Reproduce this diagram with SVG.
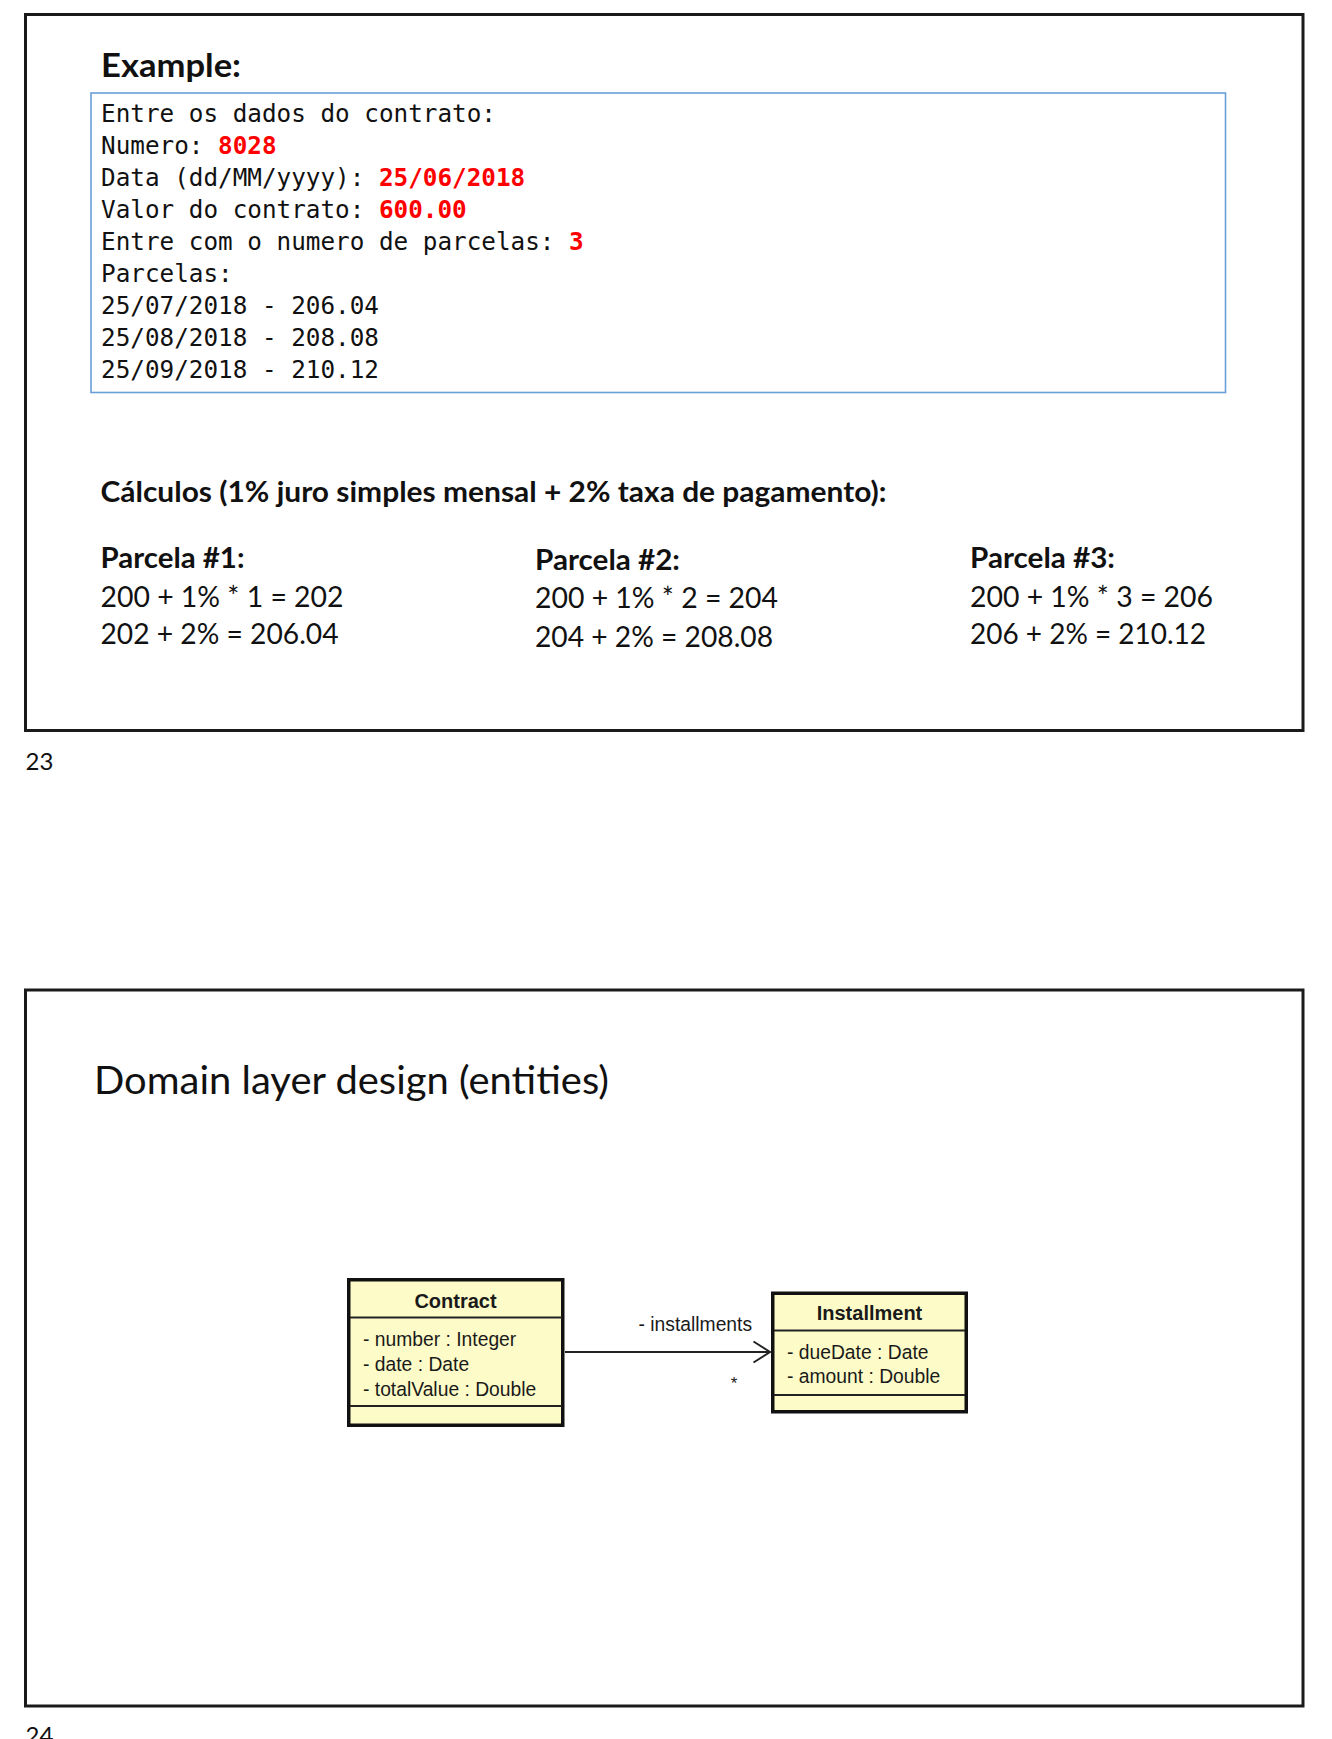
<svg xmlns="http://www.w3.org/2000/svg" width="1332" height="1739" viewBox="0 0 1332 1739">
  <style>
    .frame { fill: none; stroke: #1a1a1a; stroke-width: 3; }
    .sans { font-family: Lato, "Open Sans", "Liberation Sans", sans-serif; fill: #111; }
    .bold { font-weight: bold; }
    .mono { font-family: "DejaVu Sans Mono", "Liberation Mono", monospace; font-size: 24.3px; fill: #111; }
    .red { fill: #ff0000; font-weight: bold; }
    .calc { font-size: 28px; }
    .uml { font-family: "Liberation Sans", Arial, sans-serif; fill: #1a1a1a; }
    .attr { font-size: 19.3px; }
    .cls { fill: #fdfcc8; stroke: #111; stroke-width: 3.5; }
    .div { stroke: #222; stroke-width: 2; }
    .conn { fill: none; stroke: #222; stroke-width: 2; }
  </style>
  <rect width="1332" height="1739" fill="#ffffff"/>

  <!-- Slide 23: console example -->
  <g id="slide23">
    <rect class="frame" x="25.5" y="14.5" width="1277.5" height="716"/>
    <text class="sans bold" x="101" y="77" font-size="32.5px" textLength="140" lengthAdjust="spacingAndGlyphs">Example:</text>
    <rect x="91" y="93" width="1134.5" height="299.5" fill="none" stroke="#6a9fd8" stroke-width="1.6"/>
    <g id="console">
      <text class="mono" x="101" y="121.7">Entre os dados do contrato:</text>
      <text class="mono" x="101" y="153.7">Numero: <tspan class="red">8028</tspan></text>
      <text class="mono" x="101" y="185.7">Data (dd/MM/yyyy): <tspan class="red">25/06/2018</tspan></text>
      <text class="mono" x="101" y="217.7">Valor do contrato: <tspan class="red">600.00</tspan></text>
      <text class="mono" x="101" y="249.7">Entre com o numero de parcelas: <tspan class="red">3</tspan></text>
      <text class="mono" x="101" y="281.7">Parcelas:</text>
      <text class="mono" x="101" y="313.7">25/07/2018 - 206.04</text>
      <text class="mono" x="101" y="345.7">25/08/2018 - 208.08</text>
      <text class="mono" x="101" y="377.7">25/09/2018 - 210.12</text>
    </g>
    <text class="sans bold calc" x="100.5" y="501.5" textLength="786" lengthAdjust="spacingAndGlyphs">Cálculos (1% juro simples mensal + 2% taxa de pagamento):</text>

    <g id="parcela1">
      <text class="sans bold calc" x="100.5" y="568" textLength="144" lengthAdjust="spacingAndGlyphs">Parcela #1:</text>
      <text class="sans calc" x="100.5" y="606.7" textLength="243" lengthAdjust="spacingAndGlyphs">200 + 1% * 1 = 202</text>
      <text class="sans calc" x="100.5" y="644" textLength="238" lengthAdjust="spacingAndGlyphs">202 + 2% = 206.04</text>
    </g>
    <g id="parcela2">
      <text class="sans bold calc" x="535" y="570" textLength="145" lengthAdjust="spacingAndGlyphs">Parcela #2:</text>
      <text class="sans calc" x="535" y="608.3" textLength="243" lengthAdjust="spacingAndGlyphs">200 + 1% * 2 = 204</text>
      <text class="sans calc" x="535" y="646.7" textLength="238" lengthAdjust="spacingAndGlyphs">204 + 2% = 208.08</text>
    </g>
    <g id="parcela3">
      <text class="sans bold calc" x="970" y="568" textLength="145" lengthAdjust="spacingAndGlyphs">Parcela #3:</text>
      <text class="sans calc" x="970" y="606.7" textLength="243" lengthAdjust="spacingAndGlyphs">200 + 1% * 3 = 206</text>
      <text class="sans calc" x="970" y="644" textLength="236" lengthAdjust="spacingAndGlyphs">206 + 2% = 210.12</text>
    </g>
    <text class="sans" x="25.5" y="770" font-size="24px" fill="#222">23</text>
  </g>

  <!-- Slide 24: domain entities -->
  <g id="slide24">
    <rect class="frame" x="25.5" y="990" width="1277.5" height="716"/>
    <text class="sans" x="94" y="1094" font-size="38px" textLength="515" lengthAdjust="spacingAndGlyphs">Domain layer design (entities)</text>
    <text class="sans" x="25.5" y="1744" font-size="24px" fill="#222">24</text>
  </g>

  <!-- UML class: Contract -->
  <g id="contract">
    <rect class="cls" x="348.75" y="1279.75" width="214" height="145.5"/>
    <line class="div" x1="350" y1="1317.5" x2="562" y2="1317.5"/>
    <line class="div" x1="350" y1="1406" x2="562" y2="1406"/>
    <text class="uml bold" x="455.5" y="1307.5" font-size="20px" text-anchor="middle">Contract</text>
    <text class="uml attr" x="363" y="1346">- number : Integer</text>
    <text class="uml attr" x="363" y="1370.7">- date : Date</text>
    <text class="uml attr" x="363" y="1396">- totalValue : Double</text>
  </g>

  <!-- UML class: Installment -->
  <g id="installment">
    <rect class="cls" x="772.75" y="1293.25" width="193.5" height="118.5"/>
    <line class="div" x1="774" y1="1330.5" x2="965" y2="1330.5"/>
    <line class="div" x1="774" y1="1395" x2="965" y2="1395"/>
    <text class="uml bold" x="869.5" y="1320" font-size="20px" text-anchor="middle">Installment</text>
    <text class="uml attr" x="787" y="1359.3">- dueDate : Date</text>
    <text class="uml attr" x="787" y="1383.3">- amount : Double</text>
  </g>

  <!-- association Contract -> Installment -->
  <g id="connectors">
    <line class="conn" x1="565" y1="1352" x2="770" y2="1352"/>
    <polyline class="conn" points="753.5,1341.5 770,1352 753.5,1362.5"/>
    <text class="uml attr" x="638.5" y="1331">- installments</text>
    <text class="uml" x="734" y="1389" font-size="17px" text-anchor="middle">*</text>
  </g>
</svg>
